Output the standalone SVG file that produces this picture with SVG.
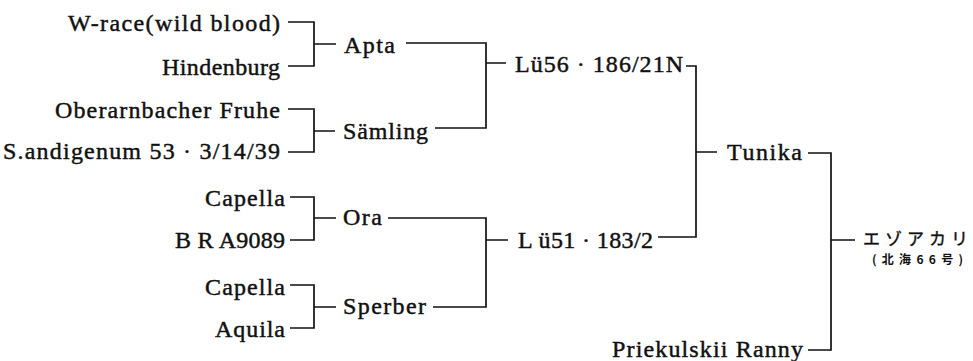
<svg xmlns="http://www.w3.org/2000/svg" width="973" height="361" viewBox="0 0 973 361">
<style>
  .t { font-family: "Liberation Serif", "Times New Roman", serif; font-size: 24px; fill: #111; stroke: #111; stroke-width: 0.45; }
  .j { font-family: "Noto Sans CJK JP", sans-serif; fill: #111; }
  .c { fill: none; stroke: #111; stroke-width: 1.7; stroke-linejoin: miter; }
</style>
<rect width="973" height="361" fill="#fff"/>
<g id="connectors">
  <path class="c" d="M288 22 H314 V66 H288 M314 44 H336"/>
  <path class="c" d="M288 109 H314 V152 H288 M314 131 H335"/>
  <path class="c" d="M290 197 H314 V240 H290 M314 218 H336"/>
  <path class="c" d="M290 285 H314 V328 H290 M314 307 H336"/>
  <path class="c" d="M406 43 H486 V128 H435 M486 63 H506"/>
  <path class="c" d="M388 218 H486 V307 H433 M486 240 H508"/>
  <path class="c" d="M686 66 H696 V237 H658 M696 152 H717"/>
  <path class="c" d="M808 153 H831 V350 H808 M831 240 H855"/>
</g>
<g id="n-wrace"><text class="t" x="68" y="31" textLength="212" lengthAdjust="spacing">W-race(wild blood)</text></g>
<g id="n-hindenburg"><text class="t" x="162" y="75" textLength="118" lengthAdjust="spacing">Hindenburg</text></g>
<g id="n-oberarnbacher"><text class="t" x="55" y="118" textLength="225" lengthAdjust="spacing">Oberarnbacher Fruhe</text></g>
<g id="n-andigenum"><text class="t" x="3" y="159" textLength="277" lengthAdjust="spacing">S.andigenum 53 · 3/14/39</text></g>
<g id="n-capella1"><text class="t" x="205" y="206" textLength="80" lengthAdjust="spacing">Capella</text></g>
<g id="n-bra9089"><text class="t" x="175" y="248" textLength="110" lengthAdjust="spacing">B R A9089</text></g>
<g id="n-capella2"><text class="t" x="205" y="295" textLength="80" lengthAdjust="spacing">Capella</text></g>
<g id="n-aquila"><text class="t" x="215" y="337" textLength="70" lengthAdjust="spacing">Aquila</text></g>
<g id="n-apta"><text class="t" x="344" y="53" textLength="51" lengthAdjust="spacing">Apta</text></g>
<g id="n-samling"><text class="t" x="343" y="139" textLength="85" lengthAdjust="spacing">Sämling</text></g>
<g id="n-ora"><text class="t" x="343" y="225" textLength="39" lengthAdjust="spacing">Ora</text></g>
<g id="n-sperber"><text class="t" x="343" y="314" textLength="83" lengthAdjust="spacing">Sperber</text></g>
<g id="n-lu56"><text class="t" x="515" y="72" textLength="168" lengthAdjust="spacing">Lü56 · 186/21N</text></g>
<g id="n-lu51"><text class="t" x="518" y="248" textLength="135" lengthAdjust="spacing">L ü51 · 183/2</text></g>
<g id="n-tunika"><text class="t" x="727" y="160" textLength="75" lengthAdjust="spacing">Tunika</text></g>
<g id="n-priekulskii"><text class="t" x="612" y="357" textLength="191" lengthAdjust="spacing">Priekulskii Ranny</text></g>
<g id="n-ezoakari">
  <text class="j" x="863" y="245" font-size="17" stroke="#111" stroke-width="0.4" textLength="105" lengthAdjust="spacing">エゾアカリ</text>
  <text class="j" x="872" y="264" font-size="12" font-weight="bold" textLength="91" lengthAdjust="spacing">(北海66号)</text>
</g>
</svg>
